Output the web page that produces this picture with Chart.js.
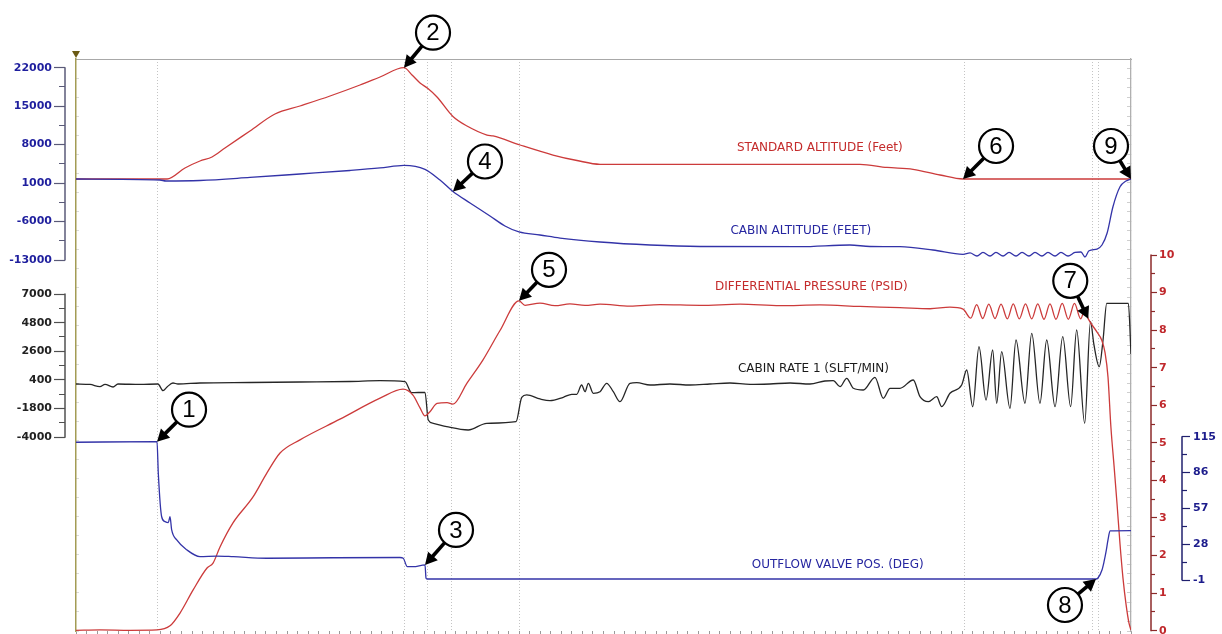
<!DOCTYPE html>
<html>
<head>
<meta charset="utf-8">
<script src="https://cdn.jsdelivr.net/npm/chart.js@4.4.1/dist/chart.umd.min.js"></script>
<style>
  html, body { margin: 0; padding: 0; background: #ffffff; }
  canvas { display: block; }
</style>
</head>
<body>
<canvas id="trace" width="1222" height="634"></canvas>
<script>
// ---- Recorded flight-test channels (time in minutes from start of record) ----

const stdAltTime = [0, 8.63, 10.33, 11.75, 12.89, 14.12, 16.49, 18.86, 21.23, 24.08, 26.92, 28.82, 31.09, 31.85, 32.61, 33.36, 34.22, 35.73, 37.06, 38.96, 39.53, 42.09, 45.21, 47.49, 49.67, 59.15, 74.31, 76.87, 79.34, 81.90, 84.08, 100];
const stdAltFeet = [1740, 1740, 3750, 5020, 5750, 7390, 10480, 13570, 15030, 16850, 18850, 20310, 22000, 20670, 19220, 18210, 16670, 13120, 11390, 9750, 9570, 7930, 6110, 5110, 4420, 4420, 4420, 3840, 3510, 2470, 1740, 1740];

const cabinAltTime = [0, 7.96, 8.53, 11.75, 16.49, 21.23, 25.97, 28.82, 31.09, 33.08, 34.50, 35.73, 37.35, 39.24, 40.66, 41.99, 43.98, 45.88, 49.67, 54.41, 59.15, 68.63, 73.36, 75.26, 78.10, 81.23, 84.08,
  84.74, 85.40, 85.97, 86.64, 87.20, 87.87, 88.44, 89.10, 89.67, 90.33, 90.90, 91.56, 92.13, 92.80, 93.36, 94.03, 94.69, 95.26, 95.64, 96.02, 96.78, 97.25, 97.73, 98.29, 98.96, 99.53, 100];
const cabinAltFeet = [1740, 1560, 1380, 1470, 2020, 2650, 3290, 3750, 4240, 3510, 1560, -530, -2620, -4990, -6810, -7900, -8450, -9000, -9720, -10270, -10540, -10580, -10270, -10540, -10580, -11180, -11960,
  -11720, -12270, -11630, -12270, -11630, -12270, -11630, -12270, -11630, -12270, -11630, -12270, -11630, -12270, -11630, -12270, -11630, -11540, -12450, -11310, -11000, -10270, -8140, -3300, 340, 1380, 1740];

const diffPressTime = [0, 2.27, 5.12, 7.68, 8.91, 9.86, 11.09, 12.42, 12.99, 13.65, 14.88, 16.78, 18.10, 19.34, 21.23, 25.02, 28.82, 31.00, 31.94, 32.61, 33.08, 33.55, 34.22, 35.17, 35.73, 37.06, 38.58, 40.19, 41.99,
  42.56, 43.98, 45.40, 46.82, 48.25, 49.67, 52.51, 55.36, 59.15, 62.94, 66.73, 70.52, 74.31, 78.10, 80.95, 82.84, 84.08,
  84.81, 85.37, 85.94, 86.52, 87.11, 87.68, 88.28, 88.84, 89.41, 90.00, 90.59, 91.16, 91.75, 92.32, 92.89, 93.48, 94.06, 94.64, 95.23,
  95.61, 95.95, 96.75, 97.22, 97.54, 97.82, 98.10, 98.39, 98.67, 98.96, 99.24, 99.53, 99.81, 100];
const diffPressPsid = [0.01, 0.02, 0.01, 0.02, 0.13, 0.47, 1.08, 1.67, 1.80, 2.23, 2.87, 3.56, 4.20, 4.73, 5.08, 5.63, 6.19, 6.43, 6.27, 5.93, 5.72, 5.83, 6.05, 6.07, 6.03, 6.59, 7.21, 7.99, 8.78,
  8.66, 8.72, 8.65, 8.70, 8.66, 8.69, 8.64, 8.68, 8.66, 8.69, 8.65, 8.67, 8.63, 8.60, 8.57, 8.61, 8.56,
  8.32, 8.68, 8.31, 8.69, 8.31, 8.69, 8.30, 8.70, 8.30, 8.70, 8.30, 8.70, 8.29, 8.70, 8.29, 8.71, 8.29, 8.71, 8.30,
  8.53, 8.30, 7.96, 7.74, 7.40, 6.75, 5.40, 4.40, 3.40, 2.30, 1.40, 0.70, 0.20, 0.02];

const cabinRateTime = [0, 1.33, 2.27, 2.75, 3.51, 3.98, 6.07, 7.77, 8.25, 8.63, 9.19, 9.67, 11.75, 16.49, 21.23, 25.97, 28.82, 31.18, 31.82, 33.08, 33.39, 33.87, 35.14, 37.18, 38.93, 41.71,
  42.25, 42.72, 43.98, 44.93, 46.19, 46.99, 47.46, 47.93, 48.25, 48.56, 49.03, 49.67, 50.30, 50.93, 51.56, 52.51, 53.15, 54.41, 56.30, 58.20, 60.09, 61.99, 63.89, 65.78, 67.68, 69.57,
  70.99, 71.78, 72.42, 73.05, 73.68, 74.63, 75.73, 76.52, 77.16, 78.10, 79.36, 80.00, 80.79, 81.58, 82.06, 82.84, 83.95,
  84.43, 85.00, 85.59, 86.26, 86.89, 87.27, 87.74, 88.53, 89.10, 89.95, 90.59, 91.37, 92.01, 92.80, 93.53, 94.28, 94.85, 95.61, 96.16, 96.49, 96.99, 97.35, 97.70, 99.75, 100];
const cabinRateSlft = [90, 55, -114, 70, -137, 90, 55, 90, -421, -137, 170, 90, 170, 208, 246, 285, 346, 270, -575, -544, -2670, -2924, -3185, -3438, -2924, -2801,
  -928, -751, -1058, -1189, -928, -698, -698, 16, -498, 147, -621, -498, 147, -498, -1266, 147, 193, 16, 93, 16, 93, 170, 55, 93, 170, 93,
  323, 346, -114, 530, -237, -368, 607, -1005, -237, -237, 400, -882, -1266, -882, -1649, -621, 16,
  1168, -1649, 2956, -1135, 2703, -1389, 2572, -1772, 3470, -1389, 3985, -1389, 3470, -1649, 3724, -1649, 4238, -2924, 4875, 3087, 1421, 3470, 6287, 6287, 2396];

const outflowTime = [0, 7.68, 7.80, 8.12, 8.44, 8.75, 8.91, 9.07, 9.55, 10.49, 11.75, 13.34, 14.91, 18.08, 24.39, 30.71, 31.02, 31.40, 31.97, 33.08, 33.18, 33.27, 96.68, 96.87, 97.25, 97.44, 97.63, 97.82, 98.01, 100];
const outflowDeg = [110.5, 111.0, 85.6, 50.2, 46.2, 45.4, 50.2, 39.5, 31.4, 23.5, 17.9, 18.4, 17.9, 16.6, 17.0, 17.2, 16.6, 9.8, 9.8, 11.2, 0.4, -0.2, -0.2, 0.6, 7.1, 13.6, 21.7, 31.4, 38.7, 38.9];

// event markers (minutes)
const eventTimes = [7.77, 31.12, 33.34, 35.55, 42.02, 84.20, 96.37, 96.94];

// labelled axis ticks
const altTicks = [22000, 15000, 8000, 1000, -6000, -13000];
const rateTicks = [7000, 4800, 2600, 400, -1800, -4000];
const dpTicks = [0, 1, 2, 3, 4, 5, 6, 7, 8, 9, 10];
const ofvTicks = [115, 86, 57, 28, -1];

// ---- layout helpers ----
const AREA_TOP = 59, AREA_BOTTOM = 631;

// each channel owns a vertical band of the plot; extend its range to the full plot height
function band(lo, hi, yLo, yHi) {
  const k = (hi - lo) / (yLo - yHi);
  return { min: lo - (AREA_BOTTOM - yLo) * k, max: hi + (yHi - AREA_TOP) * k };
}
function withMinors(majors) {
  const s = [...majors].sort((a, b) => a - b);
  const out = [];
  s.forEach((v, i) => { out.push(v); if (i < s.length - 1) out.push((v + s[i + 1]) / 2); });
  return out;
}
function fixSize(w, h) {
  return (s) => {
    if (w !== undefined) s.width = w;
    if (h !== undefined) s.height = h;
    s.paddingLeft = s.paddingRight = s.paddingTop = s.paddingBottom = 0;
  };
}
function setTicks(values) {
  return (s) => { s.ticks = values.map(v => ({ value: v })); };
}
function pts(t, v) { return t.map((x, i) => ({ x, y: v[i] })); }

function channelAxis(o) {
  return {
    type: 'linear', position: o.side, weight: o.weight, bounds: 'data',
    ...band(o.lo, o.hi, o.yLo, o.yHi),
    afterBuildTicks: setTicks(withMinors(o.majors)),
    afterFit: fixSize(o.width),
    ticks: {
      autoSkip: false, color: o.color, padding: o.pad, font: { size: 11, weight: 'bold' },
      callback: (v) => o.majors.includes(v) ? String(v) : ''
    },
    grid: {
      drawOnChartArea: false, drawTicks: true, tickLength: o.tl, tickWidth: 1.2, tickColor: o.tickColor,
      tickBorderDash: (ctx) => (ctx.tick && o.majors.includes(ctx.tick.value)) ? [] : o.minorDash
    },
    border: { display: false }
  };
}

const C_RED = '#cc3b3b', C_BLUE = '#3333a8', C_BLACK = '#262626';

const scales = {
  x: {
    type: 'linear', position: 'bottom', weight: 0, min: 0, max: 100,
    ticks: { display: false, stepSize: 1 },
    grid: { drawOnChartArea: false, drawTicks: true, tickLength: 3, tickColor: '#9a9a9a' },
    border: { display: false },
    afterFit: fixSize(undefined, 3)
  },
  xEvents: {
    type: 'linear', position: 'bottom', weight: 1, min: 0, max: 100,
    afterBuildTicks: setTicks(eventTimes),
    ticks: { display: false },
    grid: { drawTicks: false, color: '#c4c4c4', lineWidth: 1 },
    border: { display: false, dash: [1, 2] },
    afterFit: fixSize(undefined, 0)
  },
  xTop: {
    type: 'linear', position: 'top', min: 0, max: 100,
    ticks: { display: false },
    grid: { display: false },
    border: { display: true, color: '#a8a8a8', width: 1 },
    afterFit: fixSize(undefined, 0)
  },
  yAlt: channelAxis({ side: 'left', weight: 4, lo: -13000, hi: 22000, yLo: 260, yHi: 67.7, majors: altTicks,
    width: 65, color: '#1f1f9e', pad: 2, tl: 11, tickColor: '#5a5a78', minorDash: [0, 5, 6, 100] }),
  yRate: channelAxis({ side: 'left', weight: 3, lo: -4000, hi: 7000, yLo: 437.3, yHi: 294, majors: rateTicks,
    width: 0, color: '#222222', pad: 2, tl: 11, tickColor: '#505050', minorDash: [0, 5, 6, 100] }),
  yCursor: {
    type: 'linear', position: 'left', weight: 0, min: 0, max: 30,
    ticks: { display: false, stepSize: 1 },
    grid: { drawOnChartArea: false, drawTicks: true, tickLength: -3, tickColor: '#dcdcdc' },
    border: { display: true, color: '#a39c55', width: 1.5 },
    afterFit: fixSize(11)
  },
  yFrame: {
    type: 'linear', position: 'right', weight: 0, min: 0, max: 60,
    ticks: { display: false, stepSize: 1 },
    grid: { drawOnChartArea: false, drawTicks: true, tickLength: -4, tickColor: '#cfcfcf' },
    border: { display: true, color: '#b0b0b0', width: 1.3 },
    afterFit: fixSize(20)
  },
  yDP: channelAxis({ side: 'right', weight: 1, lo: 0, hi: 10, yLo: 630.7, yHi: 255, majors: dpTicks,
    width: 31, color: '#c0282c', pad: 2, tl: 6, tickColor: '#8c2a2a', minorDash: [4, 100] }),
  yOFV: channelAxis({ side: 'right', weight: 2, lo: -1, hi: 115, yLo: 580, yHi: 436.7, majors: ofvTicks,
    width: 40, color: '#1c1c8c', pad: 3, tl: 8, tickColor: '#20206e', minorDash: [5, 100] })
};

// partial axis spines (each covers only its channel's band)
const spines = [
  { id: 'yAlt', lo: -13000, hi: 22000, color: '#5a5a78' },
  { id: 'yRate', lo: -4000, hi: 7000, color: '#505050' },
  { id: 'yDP', lo: 0, hi: 10, color: '#8c2a2a' },
  { id: 'yOFV', lo: -1, hi: 115, color: '#20206e' }
];

// channel captions placed in data space
const captions = [
  { text: 'STANDARD ALTITUDE (Feet)', axis: 'yAlt', t: 70.5, v: 7390, color: '#c42b2b' },
  { text: 'CABIN ALTITUDE (FEET)', axis: 'yAlt', t: 68.7, v: -7720, color: '#2626a0' },
  { text: 'DIFFERENTIAL PRESSURE (PSID)', axis: 'yDP', t: 69.7, v: 9.15, color: '#c42b2b' },
  { text: 'CABIN RATE 1 (SLFT/MIN)', axis: 'yRate', t: 69.9, v: 1244, color: '#1a1a1a' },
  { text: 'OUTFLOW VALVE POS. (DEG)', axis: 'yOFV', t: 72.2, v: 11.1, color: '#2626a0' }
];

// numbered event callouts: arrow tip on a trace point, bubble offset in px
const callouts = [
  { n: '1', axis: 'yOFV', t: 7.68, v: 111.0, dx: 32, dy: -32 },
  { n: '2', axis: 'yAlt', t: 31.09, v: 22000, dx: 29, dy: -35 },
  { n: '3', axis: 'yOFV', t: 33.08, v: 11.2, dx: 31, dy: -35 },
  { n: '4', axis: 'yAlt', t: 35.73, v: -530, dx: 32, dy: -30 },
  { n: '5', axis: 'yDP', t: 41.99, v: 8.78, dx: 30, dy: -31 },
  { n: '6', axis: 'yAlt', t: 84.08, v: 1740, dx: 33, dy: -33 },
  { n: '7', axis: 'yDP', t: 95.95, v: 8.30, dx: -18, dy: -38 },
  { n: '8', axis: 'yOFV', t: 96.68, v: -0.2, dx: -31, dy: 26 },
  { n: '9', axis: 'yAlt', t: 100, v: 1740, dx: -20, dy: -33 }
];

function drawCallout(ctx, tx, ty, cx, cy, label) {
  const r = 17;
  const dx = tx - cx, dy = ty - cy, d = Math.hypot(dx, dy);
  const ux = dx / d, uy = dy / d;
  const head = 12, hw = 6.5;
  const bx = tx - ux * head, by = ty - uy * head;
  ctx.save();
  ctx.strokeStyle = '#000'; ctx.fillStyle = '#000';
  ctx.lineWidth = 3.6; ctx.lineCap = 'butt';
  ctx.beginPath(); ctx.moveTo(cx + ux * r, cy + uy * r); ctx.lineTo(bx + ux, by + uy); ctx.stroke();
  ctx.beginPath();
  ctx.moveTo(tx, ty);
  ctx.lineTo(bx - uy * hw, by + ux * hw);
  ctx.lineTo(bx + uy * hw, by - ux * hw);
  ctx.closePath(); ctx.fill();
  ctx.beginPath(); ctx.arc(cx, cy, r, 0, Math.PI * 2);
  ctx.fillStyle = '#fff'; ctx.fill();
  ctx.lineWidth = 2.2; ctx.stroke();
  ctx.fillStyle = '#000';
  ctx.font = '24px "Liberation Sans Narrow", "Liberation Sans", Arial, sans-serif';
  ctx.textAlign = 'center'; ctx.textBaseline = 'middle';
  ctx.fillText(label, cx, cy + 1);
  ctx.restore();
}

const decor = {
  id: 'decor',
  // the cabin-rate axis shares the altitude axis column, so give it that column's label area
  afterLayout(chart) {
    const r = chart.scales.yRate, a = chart.scales.yAlt;
    r.left = a.left;
    r.width = r.right - r.left;
  },
  afterDatasetsDraw(chart) {
    const { ctx, scales: sc, chartArea } = chart;
    const xs = sc.x;
    ctx.save();
    // channel spines
    spines.forEach(s => {
      const a = sc[s.id];
      const x = a.position === 'left' ? a.right : a.left;
      ctx.strokeStyle = s.color; ctx.lineWidth = 1.5;
      ctx.beginPath();
      ctx.moveTo(x, a.getPixelForValue(s.hi) - 0.5);
      ctx.lineTo(x, a.getPixelForValue(s.lo) + 0.5);
      ctx.stroke();
    });
    // cursor marker
    ctx.fillStyle = '#6b5a14';
    ctx.beginPath();
    ctx.moveTo(chartArea.left - 4, chartArea.top - 8);
    ctx.lineTo(chartArea.left + 4, chartArea.top - 8);
    ctx.lineTo(chartArea.left, chartArea.top - 1);
    ctx.closePath(); ctx.fill();
    // captions
    ctx.font = '12px "DejaVu Sans", Verdana, sans-serif';
    ctx.textAlign = 'center'; ctx.textBaseline = 'middle';
    captions.forEach(c => {
      ctx.fillStyle = c.color;
      ctx.fillText(c.text, xs.getPixelForValue(c.t), sc[c.axis].getPixelForValue(c.v));
    });
    ctx.restore();
    // callouts
    callouts.forEach(c => {
      const tx = xs.getPixelForValue(c.t), ty = sc[c.axis].getPixelForValue(c.v);
      drawCallout(ctx, tx, ty, tx + c.dx, ty + c.dy, c.n);
    });
  }
};

Chart.defaults.font.family = '"DejaVu Sans", Verdana, sans-serif';
Chart.defaults.font.size = 12;

const lineStyle = { pointRadius: 0, borderWidth: 1.3, fill: false, cubicInterpolationMode: 'monotone', xAxisID: 'x' };

new Chart(document.getElementById('trace'), {
  type: 'line',
  data: {
    datasets: [
      { ...lineStyle, label: 'OUTFLOW VALVE POS. (DEG)', yAxisID: 'yOFV', borderColor: C_BLUE, data: pts(outflowTime, outflowDeg) },
      { ...lineStyle, label: 'DIFFERENTIAL PRESSURE (PSID)', yAxisID: 'yDP', borderColor: C_RED, data: pts(diffPressTime, diffPressPsid) },
      { ...lineStyle, label: 'CABIN RATE 1 (SLFT/MIN)', yAxisID: 'yRate', borderColor: C_BLACK, data: pts(cabinRateTime, cabinRateSlft) },
      { ...lineStyle, label: 'CABIN ALTITUDE (FEET)', yAxisID: 'yAlt', borderColor: C_BLUE, data: pts(cabinAltTime, cabinAltFeet) },
      { ...lineStyle, label: 'STANDARD ALTITUDE (Feet)', yAxisID: 'yAlt', borderColor: C_RED, data: pts(stdAltTime, stdAltFeet) }
    ]
  },
  options: {
    responsive: false,
    devicePixelRatio: 1,
    animation: false,
    layout: { padding: { top: AREA_TOP, left: 0, right: 0, bottom: 0 } },
    plugins: { legend: { display: false }, tooltip: { enabled: false }, title: { display: false } },
    scales
  },
  plugins: [decor]
});
</script>
</body>
</html>
